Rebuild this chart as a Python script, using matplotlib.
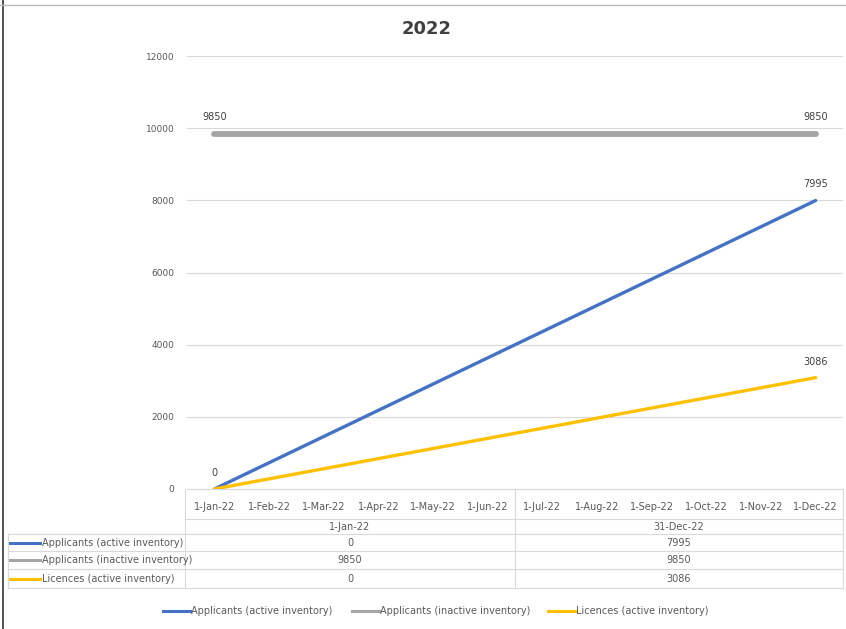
import pandas as pd
import matplotlib
matplotlib.use("Agg")
from matplotlib import pyplot as plt

# data
dates = ["1-Jan-22", "31-Dec-22"]
series = ["Applicants (active inventory)", "Applicants (inactive inventory)", "Licences (active inventory)"]
active = [0, 7995]
inactive = [9850, 9850]
licences = [0, 3086]
month_labels = ["1-Jan-22", "1-Feb-22", "1-Mar-22", "1-Apr-22", "1-May-22", "1-Jun-22",
                "1-Jul-22", "1-Aug-22", "1-Sep-22", "1-Oct-22", "1-Nov-22", "1-Dec-22"]
yticks = [0, 2000, 4000, 6000, 8000, 10000, 12000]

colors = ["#4472C4", "#A5A5A5", "#FFC000"]
widths = [2.4, 4.2, 2.4]
values = [active, inactive, licences]
txt = "#595959"
grid = "#D9D9D9"

W, H = 846, 629
fig = plt.figure(figsize=(W / 100, H / 100), dpi=100)

# date axis with base unit = months
xpos = [d.month - 1 for d in pd.to_datetime(dates, format="%d-%b-%y")]

ax = fig.add_axes([187 / W, 1 - 489 / H, (843 - 187) / W, (489 - 56) / H])
ax.set_xlim(-0.5, 11.5)
ax.set_ylim(0, 12000)
ax.set_yticks(yticks)
ax.set_yticklabels([str(v) for v in yticks], fontsize=6.5, color=txt)
ax.set_xticks(range(len(month_labels)))
ax.set_xticklabels(month_labels, fontsize=7, color=txt)
ax.tick_params(length=0)
ax.tick_params(axis="y", pad=9)
ax.tick_params(axis="x", pad=9)
ax.grid(axis="y", color=grid, lw=0.8)
ax.set_axisbelow(True)
for s in ["top", "right", "left"]:
    ax.spines[s].set_visible(False)
ax.spines["bottom"].set_color(grid)

for vals, c, lw in zip(values, colors, widths):
    ax.plot(xpos, vals, color=c, lw=lw, solid_capstyle="round", zorder=3)

# data labels
labelled = [(inactive, 0), (inactive, 1), (active, 1), (licences, 1), (active, 0)]
for vals, i in labelled:
    ax.annotate(str(vals[i]), (xpos[i], vals[i]), xytext=(0, 8), textcoords="offset points",
                ha="center", va="bottom", fontsize=7, color="#404040")

fig.text(427 / W, 1 - 29 / H, "2022", ha="center", va="center", fontsize=13,
         fontweight="bold", color="#404040")

# overlay in pixel coordinates for table, legend and frame
ov = fig.add_axes([0, 0, 1, 1])
ov.set_xlim(0, W)
ov.set_ylim(H, 0)
ov.axis("off")

# frame of screenshot
ov.plot([3, 3], [0, H], color="#333333", lw=1.2)
ov.plot([0, W], [5, 5], color="#BBBBBB", lw=1)

# data table
rows_y = [519, 534, 551, 569, 588]
ov.plot([185, 843], [rows_y[0], rows_y[0]], color=grid, lw=0.8)
for y in rows_y[1:]:
    ov.plot([8, 843], [y, y], color=grid, lw=0.8)
for x in [185, 515, 843]:
    ov.plot([x, x], [489, 588], color=grid, lw=0.8)
ov.plot([8, 8], [534, 588], color=grid, lw=0.8)

col_x = [350, 679]
for cx, d in zip(col_x, dates):
    ov.text(cx, (rows_y[0] + rows_y[1]) / 2, d, ha="center", va="center", fontsize=7, color=txt)
for r, (name, vals, c) in enumerate(zip(series, values, colors)):
    yc = (rows_y[r + 1] + rows_y[r + 2]) / 2
    ov.plot([10, 40], [yc, yc], color=c, lw=2.2)
    ov.text(42, yc, name, ha="left", va="center", fontsize=7, color=txt)
    for cx, v in zip(col_x, vals):
        ov.text(cx, yc, str(v), ha="center", va="center", fontsize=7, color=txt)

# legend
leg_x = [163, 352, 548]
for lx, name, c in zip(leg_x, series, colors):
    ov.plot([lx, lx + 27], [611, 611], color=c, lw=2.2)
    ov.text(lx + 28, 611, name, ha="left", va="center", fontsize=7, color=txt)

fig.savefig("out.png", dpi=100)
